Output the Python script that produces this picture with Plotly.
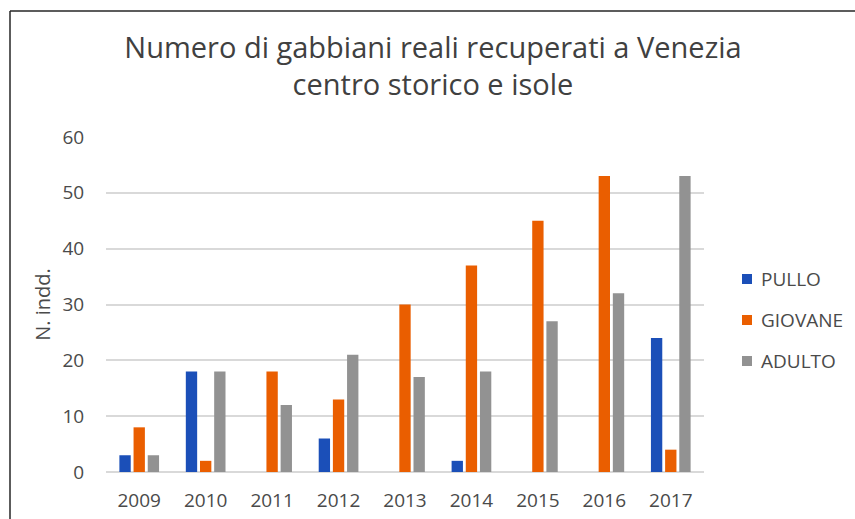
import plotly.graph_objects as go

years = ["2009", "2010", "2011", "2012", "2013", "2014", "2015", "2016", "2017"]
pullo = [3, 18, 0, 6, 0, 2, 0, 0, 24]
giovane = [8, 2, 18, 13, 30, 37, 45, 53, 4]
adulto = [3, 18, 12, 21, 17, 18, 27, 32, 53]
series_names = ["PULLO", "GIOVANE", "ADULTO"]
colors = ["#1B4FB8", "#EA5E00", "#929292"]

fig = go.Figure()
for name, vals, col in zip(series_names, [pullo, giovane, adulto], colors):
    fig.add_trace(go.Bar(x=years, y=vals, name=name, marker_color=col,
                         marker_line_width=0, showlegend=False))

font = "Open Sans, Noto Sans, sans-serif"
txt = "#4A4A4A"
W, H = 855, 519
L, R, T, B = 106, 151, 137, 47
pw, ph = W - L - R, H - T - B

def px_x(x):
    return (x - L) / pw

def px_y(y):
    return 1 - (y - T) / ph

shapes = [
    dict(type="line", xref="paper", yref="paper",
         x0=px_x(10), x1=px_x(10), y0=px_y(11), y1=px_y(530),
         line=dict(color="#262626", width=1.5)),
    dict(type="line", xref="paper", yref="paper",
         x0=px_x(10), x1=px_x(870), y0=px_y(11), y1=px_y(11),
         line=dict(color="#262626", width=1.5)),
]
annotations = []
leg_y0, leg_dy, sq = 279, 41, 10
for i, (name, col) in enumerate(zip(series_names, colors)):
    yc = leg_y0 + i * leg_dy
    shapes.append(dict(type="rect", xref="paper", yref="paper",
                       x0=px_x(742), x1=px_x(742 + sq),
                       y0=px_y(yc - sq / 2), y1=px_y(yc + sq / 2),
                       fillcolor=col, line=dict(width=0)))
    annotations.append(dict(text=name, xref="paper", yref="paper",
                            x=px_x(759), y=px_y(yc), xanchor="left", yanchor="middle",
                            showarrow=False,
                            font=dict(family=font, size=19, color=txt)))

fig.update_layout(
    width=W, height=H,
    margin=dict(l=L, r=R, t=T, b=B, autoexpand=False),
    paper_bgcolor="white", plot_bgcolor="white",
    barmode="group", bargap=0.36, bargroupgap=0.2,
    title=dict(text="Numero di gabbiani reali recuperati a Venezia<br>centro storico e isole",
               x=px_x(433), xanchor="center", xref="paper",
               y=1 - 57.5 / H, yanchor="middle",
               font=dict(family=font, size=29, color="#404040")),
    font=dict(family=font, size=19, color=txt),
    xaxis=dict(showgrid=False, showline=False, ticks="outside", ticklen=11,
               tickcolor="rgba(0,0,0,0)", automargin=False,
               tickfont=dict(size=19, color=txt)),
    yaxis=dict(range=[0, 60], dtick=10, showgrid=True, gridcolor="#D9D9D9", gridwidth=1.5,
               zeroline=True, zerolinecolor="#D9D9D9", zerolinewidth=1.5,
               ticks="outside", ticklen=17, tickcolor="rgba(0,0,0,0)", automargin=False,
               tickfont=dict(size=19, color=txt),
               title=dict(text="N. indd.", font=dict(size=20, color=txt), standoff=6)),
    shapes=shapes,
    annotations=annotations,
)

fig.write_html("out.html", config={"displayModeBar": False},
               post_script="document.body.style.margin='0';document.body.style.overflow='hidden';")
